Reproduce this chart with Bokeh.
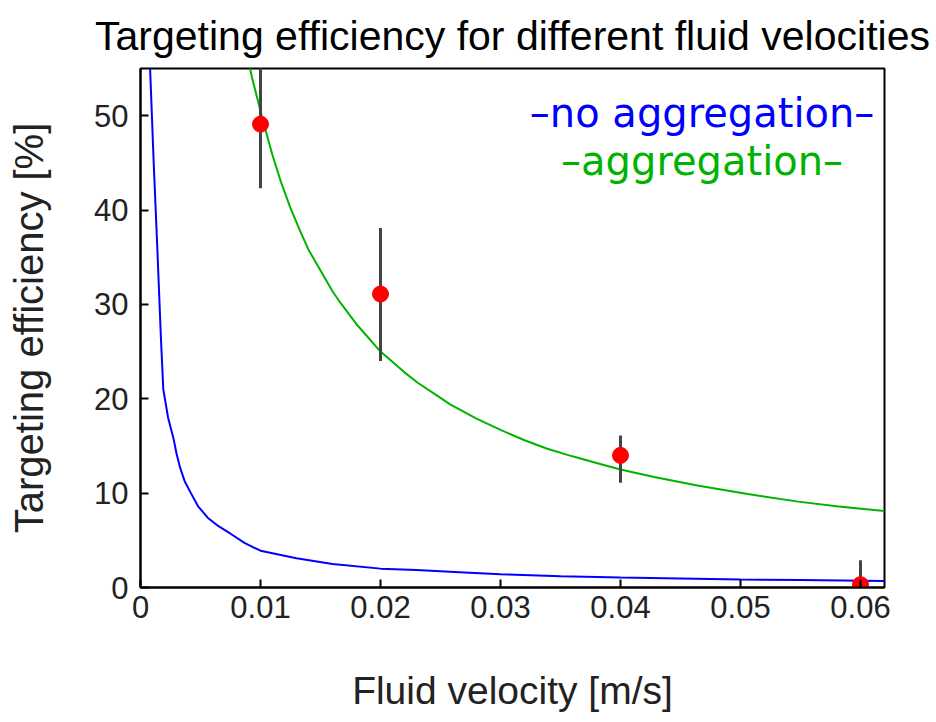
from bokeh.plotting import figure
from bokeh.models import Range1d, FixedTicker, Label, ColumnDataSource
from bokeh.embed import file_html
from bokeh.resources import INLINE

# ---- data ----
no_agg_x = [0.0006, 0.0008, 0.0011, 0.0014, 0.0017, 0.0019, 0.0021, 0.0023, 0.0025, 0.00275,
            0.0030, 0.0033, 0.0037, 0.0042, 0.0048, 0.0056, 0.0065, 0.0075, 0.0087, 0.010,
            0.0115, 0.013, 0.016, 0.020, 0.023, 0.027, 0.030, 0.035, 0.040, 0.045, 0.050,
            0.055, 0.062]
no_agg_y = [62, 55, 45, 36, 26.5, 21, 19.5, 18, 17, 15.8,
            14.2, 12.7, 11.2, 10.0, 8.6, 7.4, 6.5, 5.7, 4.7, 3.9,
            3.5, 3.1, 2.5, 2.0, 1.85, 1.6, 1.4, 1.2, 1.05, 0.95, 0.85,
            0.8, 0.7]

agg_x = [0.0088, 0.0093, 0.0102, 0.011, 0.0117, 0.0125, 0.0133, 0.014, 0.015, 0.016,
         0.0167, 0.018, 0.020, 0.022, 0.0231, 0.025, 0.0258, 0.028, 0.030, 0.032,
         0.0339, 0.036, 0.038, 0.040, 0.0428, 0.0464, 0.0506, 0.0548, 0.058, 0.062]
agg_y = [57, 54, 49.5, 45.8, 43, 40.2, 37.8, 35.8, 33.6, 31.4,
         30.1, 27.9, 25.0, 22.8, 21.7, 20.1, 19.4, 17.9, 16.7, 15.6,
         14.7, 13.9, 13.2, 12.5, 11.7, 10.8, 9.9, 9.1, 8.6, 8.1]

meas_x = [0.01, 0.02, 0.04, 0.06]
meas_y = [49.1, 31.1, 14.0, 0.3]
meas_lo = [42.3, 24.0, 11.1, 0.0]
meas_hi = [58.0, 38.1, 16.1, 2.9]

x_ticks = [0, 0.01, 0.02, 0.03, 0.04, 0.05, 0.06]
x_tick_labels = ["0", "0.01", "0.02", "0.03", "0.04", "0.05", "0.06"]
y_ticks = [0, 10, 20, 30, 40, 50]

FONT = "Liberation Sans"

p = figure(width=936, height=722, output_backend="svg", toolbar_location=None,
           x_range=Range1d(0, 0.062), y_range=Range1d(0, 55),
           min_border_left=140, min_border_right=52, min_border_top=68, min_border_bottom=135,
           title="Targeting efficiency for different fluid velocities")

p.title.text_font = FONT
p.title.text_font_size = "41px"
p.title.text_font_style = "normal"
p.title.align = "center"
p.title.text_color = "black"
p.title.standoff = 19

p.xgrid.visible = False
p.ygrid.visible = False
p.outline_line_color = "black"
p.outline_line_width = 2
p.background_fill_color = "white"
p.border_fill_color = "white"

for ax in (p.xaxis[0], p.yaxis[0]):
    ax.axis_line_color = "black"
    ax.axis_line_width = 2
    ax.major_tick_in = 8
    ax.major_tick_out = 0
    ax.major_tick_line_width = 2
    ax.major_tick_line_color = "black"
    ax.minor_tick_line_color = None
    ax.major_label_text_font = FONT
    ax.major_label_text_font_size = "31px"
    ax.major_label_text_color = "#222222"
    ax.axis_label_text_font = FONT
    ax.axis_label_text_font_style = "normal"
    ax.axis_label_text_color = "#222222"

p.xaxis.axis_label_text_font_size = "39px"
p.yaxis.axis_label_text_font_size = "40px"
p.xaxis.ticker = FixedTicker(ticks=x_ticks)
p.xaxis.major_label_overrides = dict(zip(x_ticks, x_tick_labels))
p.yaxis.ticker = FixedTicker(ticks=y_ticks)
p.xaxis.axis_label = "Fluid velocity [m/s]"
p.yaxis.axis_label = "Targeting efficiency [%]"
p.xaxis.major_label_standoff = 8
p.yaxis.major_label_standoff = 12
p.xaxis.axis_label_standoff = 48
p.yaxis.axis_label_standoff = 40

p.line(no_agg_x, no_agg_y, line_color="#0000ff", line_width=2)
p.line(agg_x, agg_y, line_color="#00b300", line_width=2)

src = ColumnDataSource(dict(x=meas_x, y=meas_y, lo=meas_lo, hi=meas_hi))
p.segment(x0="x", y0="lo", x1="x", y1="hi", source=src, line_color="#444444", line_width=3)
p.scatter(x="x", y="y", source=src, size=16, fill_color="#ff0000", line_color="#ff0000")

p.add_layout(Label(x=0.0468, y=50.3, text="\u2013no aggregation\u2013", text_color="#0000ff",
                   text_font="DejaVu Sans", text_font_size="40px",
                   text_align="center", text_baseline="middle"))
p.add_layout(Label(x=0.0468, y=45.2, text="\u2013aggregation\u2013", text_color="#00b300",
                   text_font="DejaVu Sans", text_font_size="40px",
                   text_align="center", text_baseline="middle"))

open("out.html", "w").write(file_html(p, INLINE))
